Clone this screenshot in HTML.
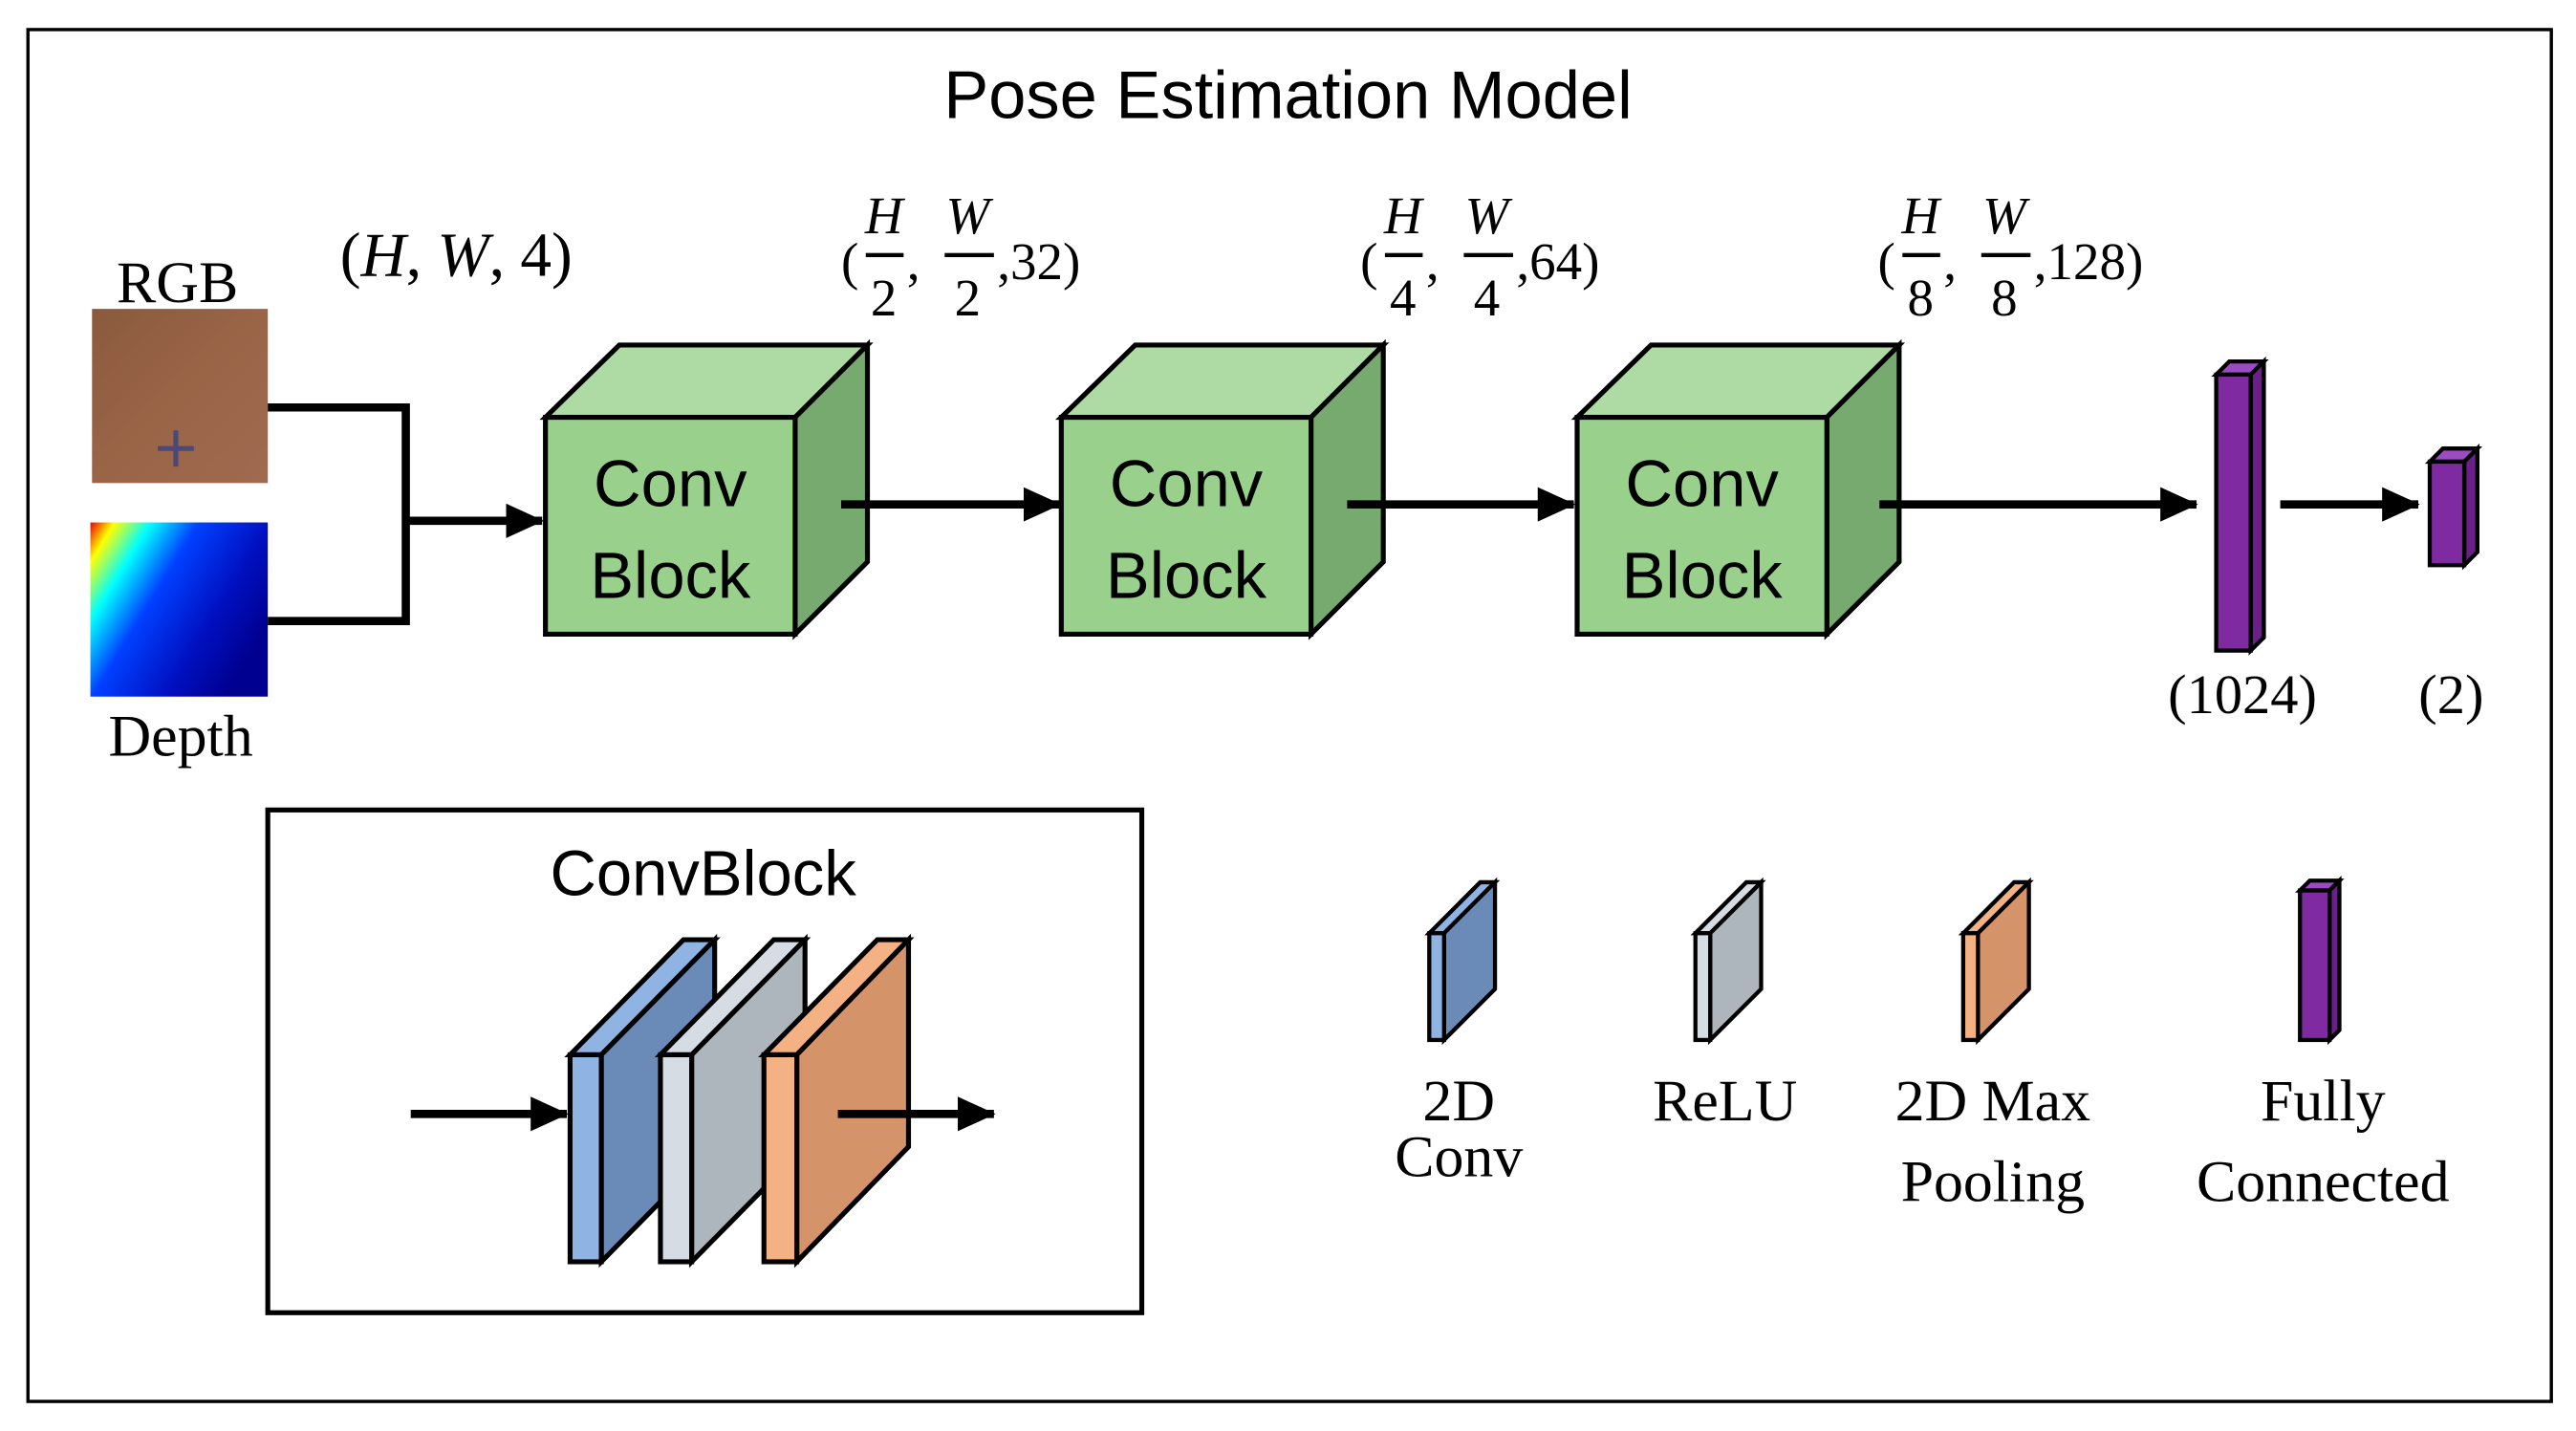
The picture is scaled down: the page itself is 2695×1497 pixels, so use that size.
<!DOCTYPE html>
<html><head><meta charset="utf-8"><style>
html,body{margin:0;padding:0;background:#fff}
svg{display:block}
.ser{font-family:"Liberation Serif",serif}
.san{font-family:"Liberation Sans",sans-serif}
</style></head><body>
<svg width="2695" height="1497" viewBox="0 0 1568 871" xmlns="http://www.w3.org/2000/svg">
<defs>
<marker id="ah" markerWidth="4.6" markerHeight="4.2" refX="4.4" refY="2.1" orient="auto" markerUnits="strokeWidth"><path d="M0,0 L4.6,2.1 L0,4.2 z" fill="#000"/></marker>
<linearGradient id="rgb" x1="0" y1="0" x2="1" y2="1"><stop offset="0" stop-color="#8a5a3c"/><stop offset="0.5" stop-color="#9a6447"/><stop offset="1" stop-color="#a06a50"/></linearGradient>
<linearGradient id="dep" x1="0" y1="0" x2="1" y2="0.6"><stop offset="0" stop-color="#e00"/><stop offset="0.1" stop-color="#ff0"/><stop offset="0.25" stop-color="#0ff"/><stop offset="0.45" stop-color="#0040ff"/><stop offset="0.75" stop-color="#0010c0"/><stop offset="1" stop-color="#000090"/></linearGradient>
</defs>
<rect width="1568" height="871" fill="#fff"/>
<rect x="17" y="18" width="1536" height="835" fill="none" stroke="#000" stroke-width="2"/>
<text x="784" y="72" text-anchor="middle" class="san" font-size="41">Pose Estimation Model</text>

<text x="108" y="184" text-anchor="middle" class="ser" font-size="36">RGB</text>
<rect x="56" y="188" width="107" height="106" fill="url(#rgb)"/>
<path d="M96,273 h22 M107,262 v22" stroke="#4a4a7a" stroke-width="3"/>
<rect x="55" y="318" width="108" height="106" fill="url(#dep)"/>
<text x="110" y="460" text-anchor="middle" class="ser" font-size="36">Depth</text>

<path d="M163,248 H247 V378 H163" fill="none" stroke="#000" stroke-width="5"/>
<line x1="247" y1="317" x2="330" y2="317" stroke="#000" stroke-width="5" marker-end="url(#ah)"/>

<text x="207" y="168" class="ser" font-size="38">(<tspan font-style="italic">H</tspan>, <tspan font-style="italic">W</tspan>, 4)</text>

<g class="ser" font-size="32">
 <g transform="translate(512,0)">
  <text x="0" y="170">(</text><text x="26" y="142" text-anchor="middle" font-style="italic">H</text><rect x="15" y="154" width="23" height="2.5"/><text x="26" y="192" text-anchor="middle">2</text>
  <text x="40" y="170">,</text><text x="77" y="142" text-anchor="middle" font-style="italic">W</text><rect x="63" y="154" width="30" height="2.5"/><text x="77" y="192" text-anchor="middle">2</text>
  <text x="95" y="170">,32)</text>
 </g>
 <g transform="translate(828,0)">
  <text x="0" y="170">(</text><text x="26" y="142" text-anchor="middle" font-style="italic">H</text><rect x="15" y="154" width="23" height="2.5"/><text x="26" y="192" text-anchor="middle">4</text>
  <text x="40" y="170">,</text><text x="77" y="142" text-anchor="middle" font-style="italic">W</text><rect x="63" y="154" width="30" height="2.5"/><text x="77" y="192" text-anchor="middle">4</text>
  <text x="95" y="170">,64)</text>
 </g>
 <g transform="translate(1143,0)">
  <text x="0" y="170">(</text><text x="26" y="142" text-anchor="middle" font-style="italic">H</text><rect x="15" y="154" width="23" height="2.5"/><text x="26" y="192" text-anchor="middle">8</text>
  <text x="40" y="170">,</text><text x="77" y="142" text-anchor="middle" font-style="italic">W</text><rect x="63" y="154" width="30" height="2.5"/><text x="77" y="192" text-anchor="middle">8</text>
  <text x="95" y="170">,128)</text>
 </g>
</g>

<g stroke="#000" stroke-width="3" stroke-linejoin="miter">
 <g id="cube">
  <path d="M332,254 L377,210 L528,210 L484,254 Z" fill="#ADDBA3"/>
  <path d="M484,254 L528,210 L528,342 L484,386 Z" fill="#77AA6E"/>
  <rect x="332" y="254" width="152" height="132" fill="#98D08C"/>
 </g>
 <use href="#cube" transform="translate(314,0)"/>
 <use href="#cube" transform="translate(628,0)"/>
</g>
<g class="san" font-size="40" text-anchor="middle">
 <text x="408" y="308">Conv</text><text x="408" y="364">Block</text>
 <text x="722" y="308">Conv</text><text x="722" y="364">Block</text>
 <text x="1036" y="308">Conv</text><text x="1036" y="364">Block</text>
</g>
<g stroke="#000" stroke-width="5">
 <line x1="512" y1="307" x2="645" y2="307" marker-end="url(#ah)"/>
 <line x1="820" y1="307" x2="958" y2="307" marker-end="url(#ah)"/>
 <line x1="1144" y1="307" x2="1337" y2="307" marker-end="url(#ah)"/>
 <line x1="1388" y1="307" x2="1472" y2="307" marker-end="url(#ah)"/>
</g>
<g stroke="#000" stroke-width="2.5" fill="#7F2AA0">
 <path d="M1349,228 L1357,220 L1378,220 L1370,228 Z" fill="#9a4cc0"/>
 <path d="M1370,228 L1378,220 L1378,388 L1370,396 Z" fill="#6a2088"/>
 <rect x="1349" y="228" width="21" height="168"/>
 <path d="M1479,281 L1487,273 L1508,273 L1500,281 Z" fill="#9a4cc0"/>
 <path d="M1500,281 L1508,273 L1508,336 L1500,344 Z" fill="#6a2088"/>
 <rect x="1479" y="281" width="21" height="63"/>
</g>
<text x="1365" y="434" text-anchor="middle" class="ser" font-size="34">(1024)</text>
<text x="1492" y="434" text-anchor="middle" class="ser" font-size="34">(2)</text>

<rect x="163" y="493" width="532" height="306" fill="none" stroke="#000" stroke-width="3"/>
<text x="428" y="545" text-anchor="middle" class="san" font-size="39">ConvBlock</text>
<line x1="250" y1="678" x2="345" y2="678" stroke="#000" stroke-width="5" marker-end="url(#ah)"/>
<g stroke="#000" stroke-width="3">
 <path d="M347,642 L416,572 L435,572 L366,642 Z" fill="#8FB4E3"/>
 <path d="M366,642 L435,572 L435,698 L366,768 Z" fill="#6A8BB7"/>
 <rect x="347" y="642" width="19" height="126" fill="#8FB4E3"/>
 <path d="M402,642 L471,572 L490,572 L421,642 Z" fill="#D6DCE4"/>
 <path d="M421,642 L490,572 L490,698 L421,768 Z" fill="#ADB5BD"/>
 <rect x="402" y="642" width="19" height="126" fill="#D6DCE4"/>
 <path d="M465,642 L534,572 L553,572 L485,642 Z" fill="#F4B183"/>
 <path d="M485,642 L553,572 L553,698 L485,768 Z" fill="#D5936A"/>
 <rect x="465" y="642" width="20" height="126" fill="#F4B183"/>
</g>
<line x1="510" y1="678" x2="605" y2="678" stroke="#000" stroke-width="5" marker-end="url(#ah)"/>

<g stroke="#000" stroke-width="2.5">
 <path d="M870,568 L901,537 L910,537 L879,568 Z" fill="#8FB4E3"/>
 <path d="M879,568 L910,537 L910,602 L879,633 Z" fill="#6A8BB7"/>
 <rect x="870" y="568" width="9" height="65" fill="#8FB4E3"/>
 <path d="M1032,568 L1063,537 L1072,537 L1041,568 Z" fill="#D6DCE4"/>
 <path d="M1041,568 L1072,537 L1072,602 L1041,633 Z" fill="#ADB5BD"/>
 <rect x="1032" y="568" width="9" height="65" fill="#D6DCE4"/>
 <path d="M1195,568 L1226,537 L1235,537 L1204,568 Z" fill="#F4B183"/>
 <path d="M1204,568 L1235,537 L1235,602 L1204,633 Z" fill="#D5936A"/>
 <rect x="1195" y="568" width="9" height="65" fill="#F4B183"/>
 <path d="M1400,542 L1406,536 L1424,536 L1418,542 Z" fill="#9a4cc0"/>
 <path d="M1418,542 L1424,536 L1424,627 L1418,633 Z" fill="#6a2088"/>
 <rect x="1400" y="542" width="18" height="91" fill="#7F2AA0"/>
</g>
<g class="ser" font-size="36" text-anchor="middle">
 <text x="888" y="682">2D</text><text x="888" y="716">Conv</text>
 <text x="1050" y="682">ReLU</text>
 <text x="1213" y="682">2D Max</text><text x="1213" y="731">Pooling</text>
 <text x="1414" y="682">Fully</text><text x="1414" y="731">Connected</text>
</g>
</svg>
</body></html>
